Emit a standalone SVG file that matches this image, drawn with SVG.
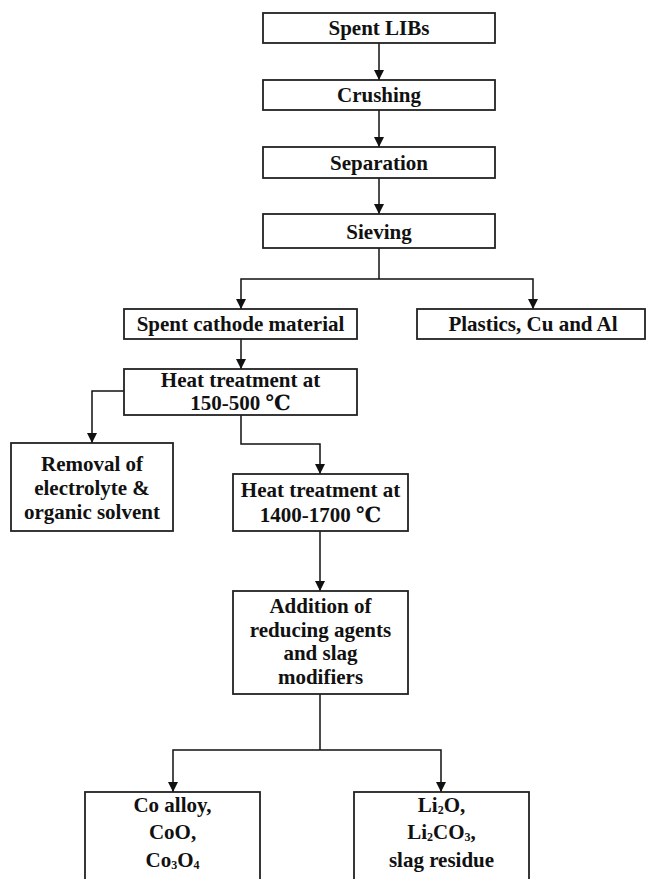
<svg xmlns="http://www.w3.org/2000/svg" width="646" height="879" viewBox="0 0 646 879">
<style>
.box{fill:#fff;stroke:#222;stroke-width:1.8}
.t{font-family:"Liberation Serif","DejaVu Serif",serif;font-weight:bold;font-size:21px;fill:#111;text-anchor:middle}
.c{fill:none;stroke:#111;stroke-width:1.5}
.sub{font-size:12px}
</style>
<defs>
<marker id="ah" markerUnits="userSpaceOnUse" markerWidth="10" markerHeight="12" refX="10" refY="5" orient="auto">
<path d="M0,0 L10,5 L0,10 z" fill="#111"/>
</marker>
</defs>
<rect width="646" height="879" fill="#fff"/>
<g id="connectors">
<path class="c" d="M379,43 V80" marker-end="url(#ah)"/>
<path class="c" d="M379,110 V147" marker-end="url(#ah)"/>
<path class="c" d="M379,178 V214" marker-end="url(#ah)"/>
<path class="c" d="M379,248 V279"/>
<path class="c" d="M379,279 H241 V309" marker-end="url(#ah)"/>
<path class="c" d="M379,279 H533 V309" marker-end="url(#ah)"/>
<path class="c" d="M241,339 V369" marker-end="url(#ah)"/>
<path class="c" d="M124,391 H92 V443" marker-end="url(#ah)"/>
<path class="c" d="M241,415 V444 H320 V474" marker-end="url(#ah)"/>
<path class="c" d="M320,531 V591" marker-end="url(#ah)"/>
<path class="c" d="M320,694 V750"/>
<path class="c" d="M320,750 H173 V792" marker-end="url(#ah)"/>
<path class="c" d="M320,750 H441 V792" marker-end="url(#ah)"/>
</g>
<g id="spent-libs"><rect class="box" x="263" y="13" width="232" height="30"/><text class="t" x="379" y="35">Spent LIBs</text></g>
<g id="crushing"><rect class="box" x="263" y="80" width="232" height="30"/><text class="t" x="379" y="102">Crushing</text></g>
<g id="separation"><rect class="box" x="263" y="147" width="232" height="31"/><text class="t" x="379" y="170">Separation</text></g>
<g id="sieving"><rect class="box" x="263" y="214" width="232" height="34"/><text class="t" x="379" y="239">Sieving</text></g>
<g id="spent-cathode"><rect class="box" x="124" y="309" width="233" height="30"/><text class="t" x="240.5" y="331">Spent cathode material</text></g>
<g id="plastics"><rect class="box" x="417" y="309" width="228" height="30"/><text class="t" x="533" y="331">Plastics, Cu and Al</text></g>
<g id="heat-150"><rect class="box" x="124" y="369" width="233" height="46"/><text class="t" x="240.5" y="387">Heat treatment at</text><text class="t" x="240.5" y="410">150-500 ℃</text></g>
<g id="removal"><rect class="box" x="11" y="443" width="162" height="88"/><text class="t" x="92" y="471">Removal of</text><text class="t" x="92" y="495">electrolyte &amp;</text><text class="t" x="92" y="519">organic solvent</text></g>
<g id="heat-1400"><rect class="box" x="233" y="474" width="175" height="57"/><text class="t" x="320.5" y="497">Heat treatment at</text><text class="t" x="320.5" y="522">1400-1700 ℃</text></g>
<g id="addition"><rect class="box" x="233" y="591" width="175" height="103"/><text class="t" x="320.5" y="613">Addition of</text><text class="t" x="320.5" y="637">reducing agents</text><text class="t" x="320.5" y="660">and slag</text><text class="t" x="320.5" y="684">modifiers</text></g>
<g id="co-products"><rect class="box" x="85" y="792" width="175" height="95"/><text class="t" x="172.5" y="812">Co alloy,</text><text class="t" x="172.5" y="839">CoO,</text><text class="t" x="172.5" y="867">Co<tspan class="sub" dy="2">3</tspan><tspan dy="-2">O</tspan><tspan class="sub" dy="2">4</tspan></text></g>
<g id="li-products"><rect class="box" x="354" y="792" width="175" height="95"/><text class="t" x="441.5" y="812">Li<tspan class="sub" dy="2">2</tspan><tspan dy="-2">O,</tspan></text><text class="t" x="441.5" y="839">Li<tspan class="sub" dy="2">2</tspan><tspan dy="-2">CO</tspan><tspan class="sub" dy="2">3</tspan><tspan dy="-2">,</tspan></text><text class="t" x="441.5" y="867">slag residue</text></g>
</svg>
